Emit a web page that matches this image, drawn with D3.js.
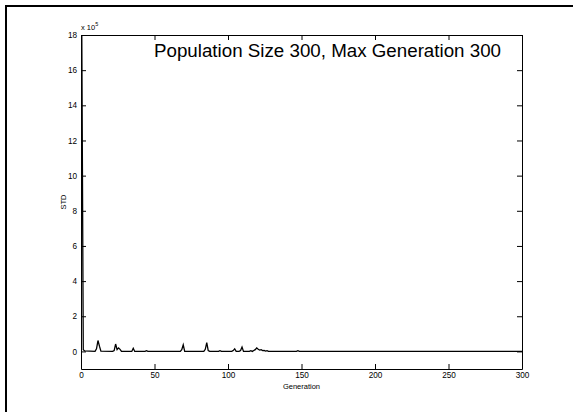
<!DOCTYPE html>
<html>
<head>
<meta charset="utf-8">
<script src="https://cdn.jsdelivr.net/npm/d3@7"></script>
<style>
  html, body { margin: 0; padding: 0; background: #fff; }
  svg { display: block; font-family: "Liberation Sans", Arial, sans-serif; }
</style>
</head>
<body>
<svg id="chart" width="573" height="412"></svg>
<script>
// STD of the population per generation (units of 1e5)
const generations = [0, 1, 2, 9, 10, 11, 12, 13, 21, 22, 23, 24, 25, 26, 27, 34, 35, 36,
  43, 44, 45, 67, 68, 69, 70, 83, 84, 85, 86, 87, 93, 94, 95, 102, 103, 104, 105,
  107, 108, 109, 110, 114, 115, 116, 117, 118, 119, 120, 121, 122, 123, 124, 125,
  126, 127, 146, 147, 148, 300];
const stdValues = [17.95, 0.1, 0.03, 0, 0.15, 0.62, 0.3, 0.02, 0, 0.05, 0.42, 0.1, 0.2, 0.12, 0, 0, 0.18, 0,
  0, 0.04, 0, 0, 0.1, 0.38, 0, 0, 0.12, 0.5, 0.05, 0, 0, 0.04, 0, 0, 0.05, 0.15, 0,
  0, 0.05, 0.25, 0, 0, 0.04, 0, 0.05, 0.1, 0.2, 0.12, 0.08, 0.1, 0.05, 0.06, 0.02,
  0.04, 0, 0, 0.04, 0, 0];

const xTicks = [0, 50, 100, 150, 200, 250, 300];
const yTicks = [0, 2, 4, 6, 8, 10, 12, 14, 16, 18];
const titleText = "Population Size 300, Max Generation 300";

const svg = d3.select("#chart");
const plotLeft = 81, plotRight = 522, plotTop = 35, plotBottom = 369;

const x = d3.scaleLinear().domain([0, 300]).range([plotLeft, plotRight]);
const y = d3.scaleLinear().domain([-1, 18]).range([plotBottom, plotTop]);

// page frame
svg.append("path")
  .attr("d", "M6,420 V6 H580")
  .attr("fill", "none").attr("stroke", "#000").attr("stroke-width", 2);

svg.append("clipPath").attr("id", "plot-clip")
  .append("rect").attr("x", plotLeft).attr("y", plotTop)
  .attr("width", plotRight - plotLeft).attr("height", plotBottom - plotTop);

// axes with inward ticks
const tickLen = 5;
const fontSize = "8.2px";

const gx = svg.append("g").attr("transform", `translate(0,${plotBottom})`)
  .call(d3.axisBottom(x).tickValues(xTicks).tickSizeInner(-tickLen).tickSizeOuter(0).tickPadding(3));
const gxTop = svg.append("g").attr("transform", `translate(0,${plotTop})`)
  .call(d3.axisTop(x).tickValues(xTicks).tickSizeInner(-tickLen).tickSizeOuter(0).tickFormat(""));
const gy = svg.append("g").attr("transform", `translate(${plotLeft},0)`)
  .call(d3.axisLeft(y).tickValues(yTicks).tickSizeInner(-tickLen).tickSizeOuter(0).tickPadding(4));
const gyRight = svg.append("g").attr("transform", `translate(${plotRight},0)`)
  .call(d3.axisRight(y).tickValues(yTicks).tickSizeInner(-tickLen).tickSizeOuter(0).tickFormat(""));

[gx, gxTop, gy, gyRight].forEach(g => {
  g.select(".domain").attr("stroke", "#000").attr("stroke-width", 1);
  g.selectAll(".tick line").attr("stroke", "#000").attr("stroke-width", 1);
  g.selectAll("text").attr("fill", "#000")
    .style("font-size", fontSize).style("font-family", "'Liberation Sans', Arial, sans-serif");
});
gx.selectAll("text").attr("dy", "0.71em");

// exponent label
const expo = svg.append("text")
  .attr("x", plotLeft).attr("y", 30)
  .style("font-size", "7.5px");
expo.append("tspan").text("x 10");
expo.append("tspan").attr("dy", -4).style("font-size", "5.5px").text("5");

// axis titles
svg.append("text")
  .attr("transform", `translate(66,${(plotTop + plotBottom) / 2}) rotate(-90)`)
  .attr("text-anchor", "middle")
  .style("font-size", "7.5px")
  .text("STD");
svg.append("text")
  .attr("x", (plotLeft + plotRight) / 2).attr("y", 389)
  .attr("text-anchor", "middle")
  .style("font-size", "7.5px")
  .text("Generation");

// plot title inside axes
svg.append("text")
  .attr("x", x(50) - 0.5).attr("y", y(16.75))
  .attr("textLength", 347)
  .attr("lengthAdjust", "spacingAndGlyphs")
  .style("font-size", "17.5px")
  .text(titleText);

// data line, nudged half a pixel off the axis
const points = generations.map((g, i) => [g, stdValues[i]]);
svg.append("g")
  .attr("clip-path", "url(#plot-clip)")
  .append("path")
  .datum(points)
  .attr("transform", "translate(0.8,0)")
  .attr("fill", "none")
  .attr("stroke", "#000")
  .attr("stroke-width", 1.3)
  .attr("d", d3.line().x(d => x(d[0])).y(d => y(d[1])));
</script>
</body>
</html>
